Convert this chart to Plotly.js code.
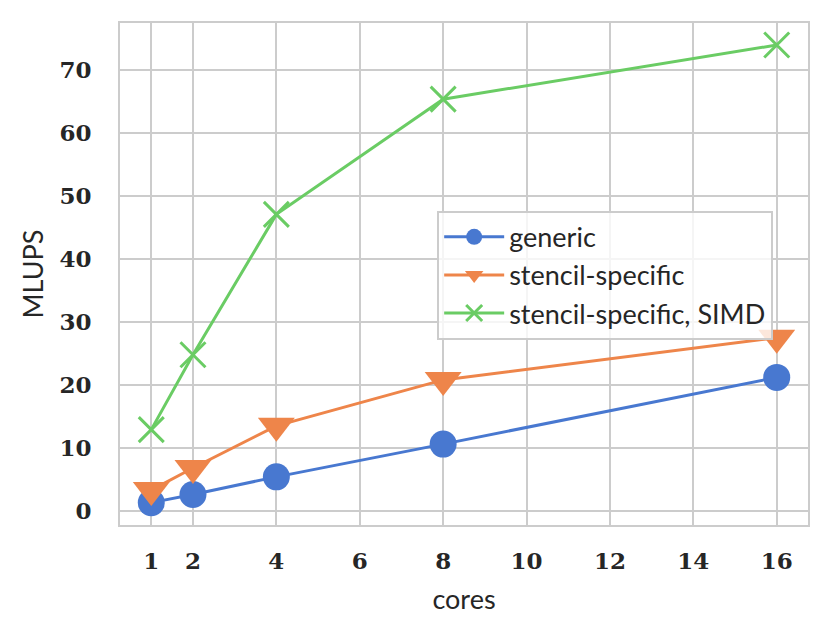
<!DOCTYPE html>
<html>
<head>
<meta charset="utf-8">
<script src="https://cdn.plot.ly/plotly-3.0.1.min.js"></script>
<style>
  html, body { margin: 0; padding: 0; background: #fff; }
  #chart { width: 831px; height: 636px; }
</style>
</head>
<body>
<div id="chart"></div>
<script>
// cores vs. MLUPS for three kernel variants
const cores = [1, 2, 4, 8, 16];
const generic = [1.3, 2.6, 5.4, 10.6, 21.2];
const stencilSpecific = [3.3, 6.8, 13.5, 20.8, 27.5];
const stencilSimd = [12.9, 24.8, 47.1, 65.4, 74.0];
const xTicks = [1, 2, 4, 6, 8, 10, 12, 14, 16];
const yTicks = [0, 10, 20, 30, 40, 50, 60, 70];

const COLORS = { generic: "#4878d0", stencil: "#ee854a", simd: "#6acc64" };
const GRID = "#cccccc";
const TICKFONT = { family: "DejaVu Serif, Liberation Serif, serif", size: 23, color: "#262626", weight: "bold" };
const SANS = "Lato, DejaVu Sans, sans-serif";

const traces = [
  {
    x: cores, y: generic, name: "generic",
    type: "scatter", mode: "lines+markers",
    line: { color: COLORS.generic, width: 3 },
    marker: { symbol: "circle", size: 27, color: COLORS.generic }
  },
  {
    x: cores, y: stencilSpecific, name: "stencil-specific",
    type: "scatter", mode: "lines+markers",
    line: { color: COLORS.stencil, width: 3 },
    marker: { symbol: "triangle-down", size: 32, color: COLORS.stencil }
  },
  {
    x: cores, y: stencilSimd, name: "stencil-specific, SIMD",
    type: "scatter", mode: "lines+markers",
    line: { color: COLORS.simd, width: 3 },
    marker: { symbol: "x-thin-open", size: 25, color: COLORS.simd, line: { color: COLORS.simd, width: 3 } }
  }
];

const layout = {
  width: 831, height: 636,
  margin: { l: 120, r: 23, t: 23, b: 111 },
  paper_bgcolor: "#ffffff",
  plot_bgcolor: "#ffffff",
  font: { family: SANS, size: 27, color: "#262626" },
  showlegend: true,
  xaxis: {
    range: [0.25, 16.75],
    tickmode: "array", tickvals: xTicks,
    showgrid: true, gridcolor: GRID, gridwidth: 2,
    zeroline: false,
    showline: true, mirror: true, linecolor: GRID, linewidth: 2,
    ticks: "outside", ticklen: 14, tickcolor: "rgba(0,0,0,0)",
    tickfont: TICKFONT,
    title: { text: "cores", font: { family: SANS, size: 27, color: "#262626" }, standoff: 18 }
  },
  yaxis: {
    range: [-2.25, 77.5],
    tickmode: "array", tickvals: yTicks,
    showgrid: true, gridcolor: GRID, gridwidth: 2,
    zeroline: false,
    showline: true, mirror: true, linecolor: GRID, linewidth: 2,
    ticks: "outside", ticklen: 22, tickcolor: "rgba(0,0,0,0)",
    tickfont: TICKFONT,
    title: { text: "MLUPS", font: { family: SANS, size: 27, color: "#262626" }, standoff: 8 }
  },
  legend: {
    x: 0.461, y: 0.626, xanchor: "left", yanchor: "top",
    bgcolor: "rgba(255,255,255,0.8)",
    bordercolor: GRID, borderwidth: 2,
    font: { family: SANS, size: 27, color: "#262626" },
    itemwidth: 60,
    tracegroupgap: 0
  }
};

Plotly.newPlot("chart", traces, layout, { displayModeBar: false, staticPlot: true });
</script>
</body>
</html>
